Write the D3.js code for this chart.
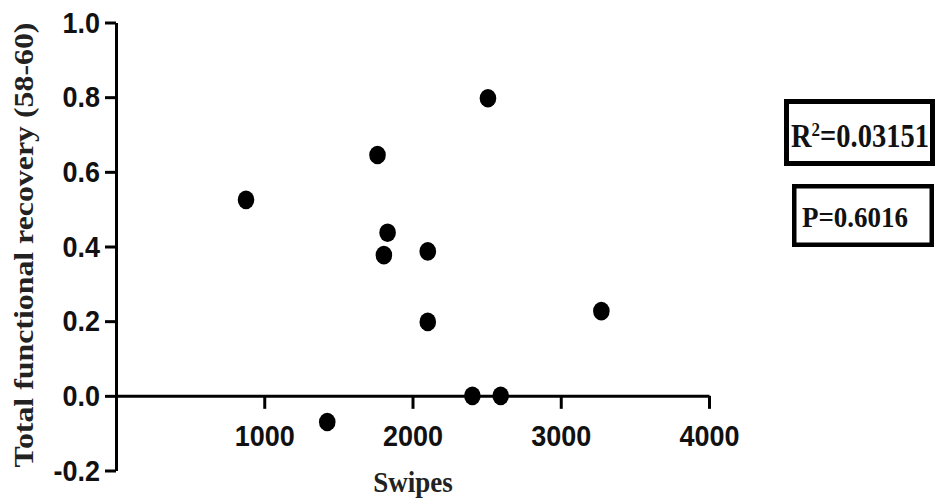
<!DOCTYPE html>
<html>
<head>
<meta charset="utf-8">
<script src="https://cdn.jsdelivr.net/npm/d3@7"></script>
<style>
  body { margin: 0; background: #fff; }
  svg { display: block; }
</style>
</head>
<body>
<svg width="935" height="499"></svg>
<script>
// data
var swipes   = [877, 1425, 1764, 1807, 1832, 2103, 2103, 2404, 2509, 2595, 3274];
var recovery = [0.525, -0.07, 0.645, 0.377, 0.437, 0.387, 0.198, 0.0, 0.797, 0.0, 0.227];
var xTicks = [1000, 2000, 3000, 4000];
var yTicks = [-0.2, 0.0, 0.2, 0.4, 0.6, 0.8, 1.0];
var rSquared = "0.03151";
var pValue = "0.6016";

var svg = d3.select('svg');

var x = d3.scaleLinear().domain([0, 4000]).range([116, 709]);
var y = d3.scaleLinear().domain([-0.2, 1.0]).range([470.5, 22.5]);

var sans = "'Liberation Sans', Arial, sans-serif";
var serif = "'Liberation Serif', 'Times New Roman', serif";

// y axis
var yAxis = svg.append("g")
    .attr("transform", "translate(" + x(0) + ",0)")
    .call(d3.axisLeft(y)
      .tickValues(yTicks)
      .tickSize(11)
      .tickSizeOuter(0)
      .tickPadding(5)
      .tickFormat(function(d) { return d3.format(".1f")(d).replace("−", "-"); }));

// x axis sits on y = 0
var xAxis = svg.append("g")
    .attr("transform", "translate(0," + y(0) + ")")
    .call(d3.axisBottom(x)
      .tickValues(xTicks)
      .tickSize(13)
      .tickSizeOuter(0)
      .tickPadding(13)
      .tickFormat(d3.format("d")));

[yAxis, xAxis].forEach(function(ax) {
  ax.select(".domain").attr("stroke", "#000").attr("stroke-width", 3);
  ax.selectAll(".tick line").attr("stroke", "#000").attr("stroke-width", 3);
  ax.selectAll(".tick text")
    .attr("fill", "#111")
    .style("font-family", sans)
    .style("font-weight", "bold")
    .style("font-size", "27px")
    .attr("transform", "scale(1,1.12)");
});

// points
svg.append("g")
  .selectAll("ellipse")
  .data(swipes)
  .enter().append("ellipse")
    .attr("cx", function(d) { return x(d); })
    .attr("cy", function(d, i) { return y(recovery[i]); })
    .attr("rx", 8.3)
    .attr("ry", 9.3)
    .attr("fill", "#000");

// axis titles
svg.append("text")
    .attr("transform", "translate(413,492) scale(1,1.1)")
    .attr("text-anchor", "middle")
    .style("font-family", serif)
    .style("font-weight", "bold")
    .style("font-size", "27px")
    .attr("fill", "#222")
    .text("Swipes");

svg.append("text")
    .attr("transform", "translate(33,245) rotate(-90) scale(1.18,1)")
    .attr("text-anchor", "middle")
    .style("font-family", serif)
    .style("font-weight", "bold")
    .style("font-size", "27px")
    .attr("fill", "#222")
    .text("Total functional recovery (58-60)");

// stat boxes
svg.append("rect")
    .attr("x", 786.5).attr("y", 101.5)
    .attr("width", 146).attr("height", 62)
    .attr("fill", "none").attr("stroke", "#000").attr("stroke-width", 5);

svg.append("rect")
    .attr("x", 794.25).attr("y", 186.25)
    .attr("width", 137.5).attr("height", 58.5)
    .attr("fill", "none").attr("stroke", "#000").attr("stroke-width", 4.5);

var rText = svg.append("text")
    .attr("transform", "translate(791,147.3) scale(1,1.15)")
    .style("font-family", serif)
    .style("font-weight", "bold")
    .style("font-size", "28.5px")
    .attr("fill", "#111");
rText.append("tspan").text("R");
rText.append("tspan").attr("dy", -10).style("font-size", "17px").text("2");
rText.append("tspan").attr("dy", 10).text("=" + rSquared);

svg.append("text")
    .attr("transform", "translate(802,226.7) scale(1,1.12)")
    .style("font-family", serif)
    .style("font-weight", "bold")
    .style("font-size", "27px")
    .attr("fill", "#111")
    .text("P=" + pValue);
</script>
</body>
</html>
